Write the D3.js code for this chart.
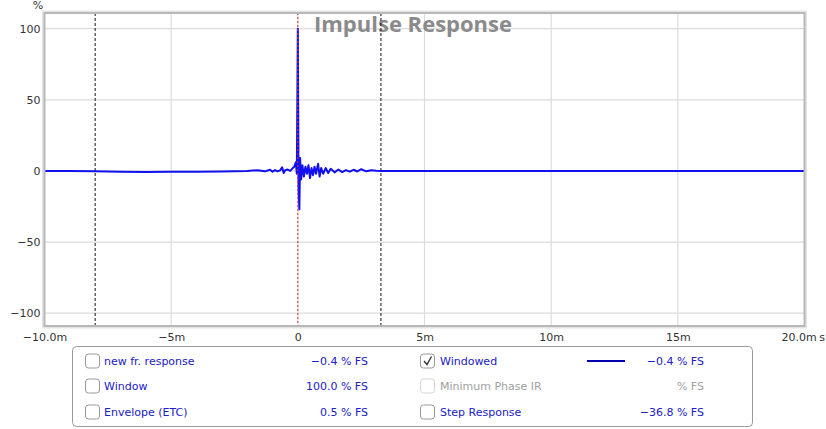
<!DOCTYPE html>
<html><head><meta charset="utf-8">
<script src="https://cdn.jsdelivr.net/npm/d3@7"></script>
<style>
body{margin:0;background:#fff;}
svg{display:block;font-family:"DejaVu Sans",sans-serif;}
</style></head>
<body><svg id="c" width="826" height="429"></svg>
<script>
// ---- data ----
const timeMs = [-10,-9,-8,-7,-6,-5,-4,-3,-2.5,-2,-1.6,-1.3,-1.1,-1.0,-0.9,-0.8,-0.7,-0.62,-0.56,-0.5,-0.4,-0.3,-0.2,-0.14,-0.08,-0.04,0,0.03,0.06,0.09,0.13,0.18,0.24,0.3,0.36,0.42,0.48,0.54,0.6,0.66,0.72,0.8,0.86,0.92,1.0,1.1,1.2,1.3,1.45,1.6,1.75,1.9,2.05,2.2,2.35,2.5,2.7,2.9,3.1,3.3,4,6,8,10,12,14,16,18,20];
const impulsePct = [0,0,-0.3,-0.6,-0.7,-0.6,-0.5,-0.4,-0.2,0,0.5,-0.3,0.8,-0.5,0.6,-0.3,0.4,2.5,-1.5,0.5,1,0,2,3,6,-2,100,-12,-27,9,-6,4,-4,3,-2,4,-5,2,-3,3,-2,5,-4,2,-2,2,-1.5,1.5,-1,1,-0.8,0.6,-0.5,0.8,-0.4,1.2,-0.3,0.5,0.2,0,0,0,0,0,0,0,0,0,0];
const xTicks = [-10,-5,0,5,10,15,20];
const xTickLabels = ["\u221210.0m","\u22125m","0","5m","10m","15m","20.0m"];
const yTicks = [100,50,0,-50,-100];
const yTickLabels = ["100","50","0","\u221250","\u2212100"];
const markersMs = [-8,3.28];
const refMarkerMs = [0];
const legendLeft = ["new fr. response","Window","Envelope (ETC)"];
const legendLeftVals = ["\u22120.4 % FS","100.0 % FS","0.5 % FS"];
const legendRight = ["Windowed","Minimum Phase IR","Step Response"];
const legendRightVals = ["\u22120.4 % FS","% FS","\u221236.8 % FS"];
const legendRightChecked = [true,false,false];
const legendRightEnabled = [true,false,true];

// ---- chart ----
const svg = d3.select("#c");
const L=44.5,R=804.5,T=13,B=326;
const x = d3.scaleLinear().domain([-10,20]).range([L,R]);
const y = d3.scaleLinear().domain([-109,111]).range([B,T]);

// grid
const g = svg.append("g");
g.selectAll(".gx").data(xTicks.slice(1,-1)).join("line")
  .attr("x1",d=>x(d)).attr("x2",d=>x(d)).attr("y1",T).attr("y2",B)
  .attr("stroke","#dcdcdc").attr("stroke-width",1.2);
g.selectAll(".gy").data(yTicks).join("line")
  .attr("x1",L).attr("x2",R).attr("y1",d=>y(d)).attr("y2",d=>y(d))
  .attr("stroke","#dcdcdc").attr("stroke-width",1.2);

// title
svg.append("text").attr("x",413).attr("y",32).attr("text-anchor","middle")
  .attr("font-size",22).attr("font-weight","bold").attr("fill","#8a8a8a")
  .attr("font-family","'Open Sans','DejaVu Sans',sans-serif")
  .text("Impulse Response");

// marker lines
svg.selectAll(".mk").data(markersMs).join("line")
  .attr("x1",d=>x(d)).attr("x2",d=>x(d)).attr("y1",T).attr("y2",B)
  .attr("stroke","#111").attr("stroke-width",1).attr("stroke-dasharray","3,2");

// impulse line
const line = d3.line().x((d,i)=>x(timeMs[i])).y(d=>y(d));
svg.append("path").datum(impulsePct).attr("d",line)
  .attr("fill","none").attr("stroke","#1010f0").attr("stroke-width",2)
  .attr("stroke-linejoin","round");

svg.selectAll(".rm").data(refMarkerMs).join("line")
  .attr("x1",d=>x(d)).attr("x2",d=>x(d)).attr("y1",T).attr("y2",B)
  .attr("stroke","#e0302a").attr("stroke-width",1).attr("stroke-dasharray","2,2");

// frame
svg.append("rect").attr("x",L-1.5).attr("y",T-1.5).attr("width",R-L+3).attr("height",B-T+3)
  .attr("fill","none").attr("stroke","#e4e4e4").attr("stroke-width",2);
svg.append("rect").attr("x",L).attr("y",T).attr("width",R-L).attr("height",B-T)
  .attr("fill","none").attr("stroke","#b8b8b8").attr("stroke-width",2);

// axes
const ax = svg.append("g").attr("transform",`translate(0,${B})`)
  .call(d3.axisBottom(x).tickValues(xTicks).tickSize(0).tickPadding(7)
    .tickFormat((d,i)=>xTickLabels[i]));
const ay = svg.append("g").attr("transform",`translate(${L-4},0)`)
  .call(d3.axisLeft(y).tickValues(yTicks).tickSize(0).tickPadding(0)
    .tickFormat((d,i)=>yTickLabels[i]));
[ax,ay].forEach(a=>{a.select(".domain").remove();
  a.selectAll("text").attr("font-size",11).attr("fill","#333")
   .attr("font-family","'DejaVu Sans',sans-serif");});
ax.selectAll(".tick text").filter((d,i)=>i===xTicks.length-1).attr("dx",-6);
svg.append("text").attr("x",822).attr("y",B+15).attr("text-anchor","middle")
  .attr("font-size",11).attr("fill","#333").text("s");
svg.append("text").attr("x",38).attr("y",9).attr("text-anchor","middle")
  .attr("font-size",11).attr("fill","#333").text("%");

// legend
const lg = svg.append("g");
lg.append("rect").attr("x",72.5).attr("y",346.5).attr("width",680).attr("height",80)
  .attr("rx",4).attr("fill","#fff").attr("stroke","#9a9a9a");
const rowsY=[361,386,412];
const blue="#2020c8";
function box(cx,cy,en,chk){
  lg.append("rect").attr("x",cx).attr("y",cy-7).attr("width",14).attr("height",14).attr("rx",3)
    .attr("fill","#fff").attr("stroke",en?"#9a9a9a":"#d4d4d4");
  if(chk) lg.append("path").attr("d",`M${cx+3.5},${cy}l3,3.5l4.5,-8`).attr("fill","none")
    .attr("stroke","#333").attr("stroke-width",1.4);
}
legendLeft.forEach((t,i)=>{
  box(85.5,rowsY[i],true,false);
  lg.append("text").attr("x",104).attr("y",rowsY[i]+4).attr("font-size",11).attr("fill",blue).text(t);
  lg.append("text").attr("x",368).attr("y",rowsY[i]+4).attr("text-anchor","end").attr("font-size",11).attr("fill",blue).text(legendLeftVals[i]);
});
legendRight.forEach((t,i)=>{
  const c = legendRightEnabled[i]?blue:"#a0a0a0";
  box(420.5,rowsY[i],legendRightEnabled[i],legendRightChecked[i]);
  lg.append("text").attr("x",440).attr("y",rowsY[i]+4).attr("font-size",11).attr("fill",c).text(t);
  lg.append("text").attr("x",704).attr("y",rowsY[i]+4).attr("text-anchor","end").attr("font-size",11).attr("fill",c).text(legendRightVals[i]);
});
lg.append("line").attr("x1",587).attr("x2",625).attr("y1",rowsY[0]).attr("y2",rowsY[0])
  .attr("stroke","#0000b0").attr("stroke-width",2);
</script></body></html>
